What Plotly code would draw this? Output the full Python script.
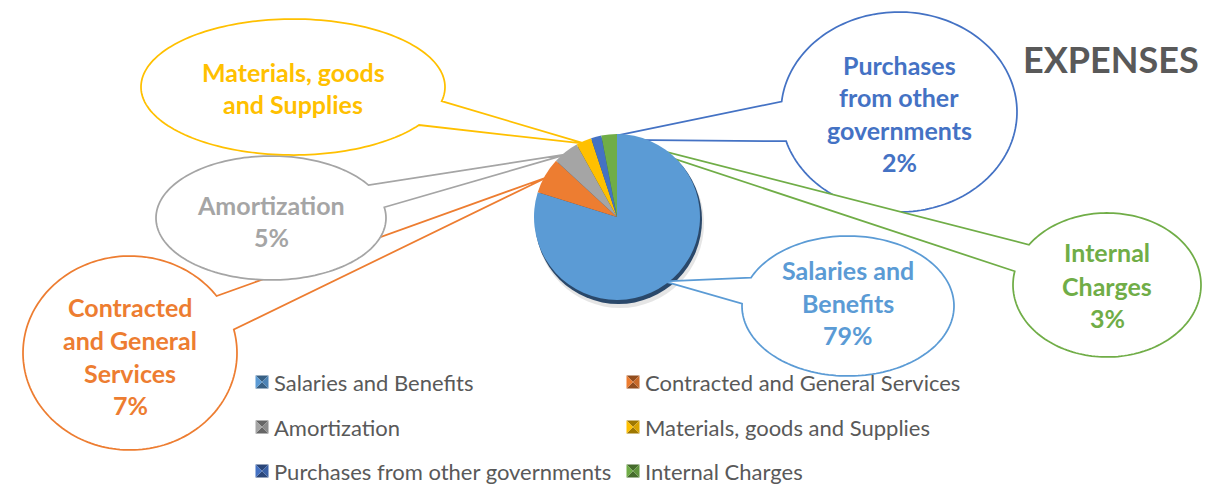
import math
import plotly.graph_objects as go

W, H = 1218, 484

# ---- data -------------------------------------------------------------
categories = [
    "Salaries and Benefits",
    "Contracted and General Services",
    "Amortization",
    "Materials, goods and Supplies",
    "Purchases from other governments",
    "Internal Charges",
]
percent = [79, 7, 5, 3, 2, 3]
colors = ["#5B9BD5", "#ED7D31", "#A5A5A5", "#FFC000", "#4472C4", "#70AD47"]

# callout wording (name lines) and whether the percentage line is shown
callout_names = [
    ["Salaries and", "Benefits"],
    ["Contracted", "and General", "Services"],
    ["Amortization"],
    ["Materials, goods", "and Supplies"],
    ["Purchases", "from other", "governments"],
    ["Internal", "Charges"],
]
callout_show_pct = [True, True, True, False, True, True]

title_text = "EXPENSES"

# ---- layout constants (pixels) ----------------------------------------
PIE_CX, PIE_CY, PIE_R = 617, 217, 83

# callout balloons: centre, radii, notch angles (deg, screen coords), text line y
callout_geom = [
    dict(cx=848, cy=306, rx=106, ry=70, a1=182, a2=204, ty=[270, 303, 335]),
    dict(cx=130, cy=353, rx=107, ry=97, a1=-36, a2=-14, ty=[307, 340, 373, 405]),
    dict(cx=271, cy=218, rx=115, ry=62, a1=-32, a2=-10, ty=[205, 237]),
    dict(cx=293, cy=87, rx=152, ry=68, a1=12, a2=34, ty=[72, 104]),
    dict(cx=899, cy=112, rx=118, ry=100, a1=163, a2=186, ty=[65, 97, 130, 162]),
    dict(cx=1107, cy=285, rx=94, ry=72, a1=191, a2=214, ty=[252, 286, 318]),
]
draw_order = [1, 2, 3, 0, 4, 5]

legend_cols = [262, 633]
legend_rows = [382, 427, 471]
FONT = "Lato"


def px(x):
    return x / W


def py(y):
    return 1 - y / H


def shade(hex_color, f):
    r, g, b = (int(hex_color[i:i + 2], 16) for i in (1, 3, 5))
    if f < 1:
        r, g, b = (int(c * f) for c in (r, g, b))
    else:
        t = f - 1
        r, g, b = (int(c + (255 - c) * t) for c in (r, g, b))
    return f"rgb({r},{g},{b})"


def path_of(points, close=True):
    s = "M " + " L ".join(f"{px(x):.5f},{py(y):.5f}" for x, y in points)
    return s + (" Z" if close else "")


def balloon_path(g, tip):
    start, end = g["a2"], g["a1"] + 360
    n = int((end - start) / 2) + 1
    pts = []
    for i in range(n + 1):
        t = math.radians(start + (end - start) * i / n)
        pts.append((g["cx"] + g["rx"] * math.cos(t), g["cy"] + g["ry"] * math.sin(t)))
    pts.append(tip)
    return path_of(pts)


# slice mid-angles -> anchor points on the pie rim
total = sum(percent)
tips = []
cum = 0
for v in percent:
    mid = math.radians((cum + v / 2) / total * 360)
    cum += v
    rt = PIE_R - 3
    tips.append((PIE_CX + rt * math.sin(mid), PIE_CY - rt * math.cos(mid)))

fig = go.Figure()
fig.add_trace(go.Pie(
    labels=categories,
    values=percent,
    sort=False,
    direction="clockwise",
    rotation=0,
    marker=dict(colors=colors, line=dict(width=0)),
    textinfo="none",
    hoverinfo="label+percent",
    showlegend=False,
    domain=dict(
        x=[px(PIE_CX - PIE_R), px(PIE_CX + PIE_R)],
        y=[py(PIE_CY + PIE_R), py(PIE_CY - PIE_R)],
    ),
))

shapes = []
# soft drop shadow and dark rim under the pie
shapes.append(dict(type="circle", xref="paper", yref="paper", layer="below",
                   x0=px(PIE_CX - PIE_R + 2), x1=px(PIE_CX + PIE_R + 4),
                   y0=py(PIE_CY + PIE_R + 8), y1=py(PIE_CY - PIE_R + 5),
                   fillcolor="rgba(0,0,0,0.10)", line_width=0))
shapes.append(dict(type="circle", xref="paper", yref="paper", layer="below",
                   x0=px(PIE_CX - PIE_R + 1), x1=px(PIE_CX + PIE_R + 2),
                   y0=py(PIE_CY + PIE_R + 4), y1=py(PIE_CY - PIE_R + 2),
                   fillcolor="rgb(42,72,106)", line_width=0))

annotations = []
for i in draw_order:
    g = callout_geom[i]
    col = colors[i]
    shapes.append(dict(type="path", xref="paper", yref="paper", layer="below",
                       path=balloon_path(g, tips[i]),
                       fillcolor="white", line=dict(color=col, width=1.75)))
    lines = list(callout_names[i])
    if callout_show_pct[i]:
        lines.append(f"{percent[i]}%")
    for txt, y in zip(lines, g["ty"]):
        annotations.append(dict(
            x=px(g["cx"]), y=py(y), xref="paper", yref="paper",
            text=txt, showarrow=False, xanchor="center", yanchor="middle",
            font=dict(family=FONT, size=25, color=col, weight="bold"),
        ))

# legend: bevelled swatches plus labels, two columns
for i, name in enumerate(categories):
    cx = legend_cols[i % 2]
    cy = legend_rows[i // 2]
    s = 6.5
    x0, x1, y0, y1 = cx - s, cx + s, cy - s, cy + s
    c = colors[i]
    tris = [
        ([(x0, y0), (x1, y0), (cx, cy)], shade(c, 0.62)),
        ([(x0, y1), (x1, y1), (cx, cy)], shade(c, 0.62)),
        ([(x0, y0), (x0, y1), (cx, cy)], shade(c, 1.0)),
        ([(x1, y0), (x1, y1), (cx, cy)], shade(c, 0.85)),
    ]
    for pts, fc in tris:
        shapes.append(dict(type="path", xref="paper", yref="paper",
                           path=path_of(pts), fillcolor=fc, line_width=0))
    annotations.append(dict(
        x=px(cx + 10), y=py(cy), xref="paper", yref="paper",
        text=name, showarrow=False, xanchor="left", yanchor="middle",
        font=dict(family=FONT, size=22, color="#595959"),
    ))

annotations.append(dict(
    x=px(1111), y=py(59), xref="paper", yref="paper",
    text=title_text, showarrow=False, xanchor="center", yanchor="middle",
    font=dict(family=FONT, size=36, color="#595959", weight="bold"),
))

fig.update_layout(
    width=W, height=H, autosize=False,
    margin=dict(l=0, r=0, t=0, b=0),
    paper_bgcolor="white", plot_bgcolor="white",
    shapes=shapes, annotations=annotations,
    showlegend=False,
)

fig.write_html("out.html")
